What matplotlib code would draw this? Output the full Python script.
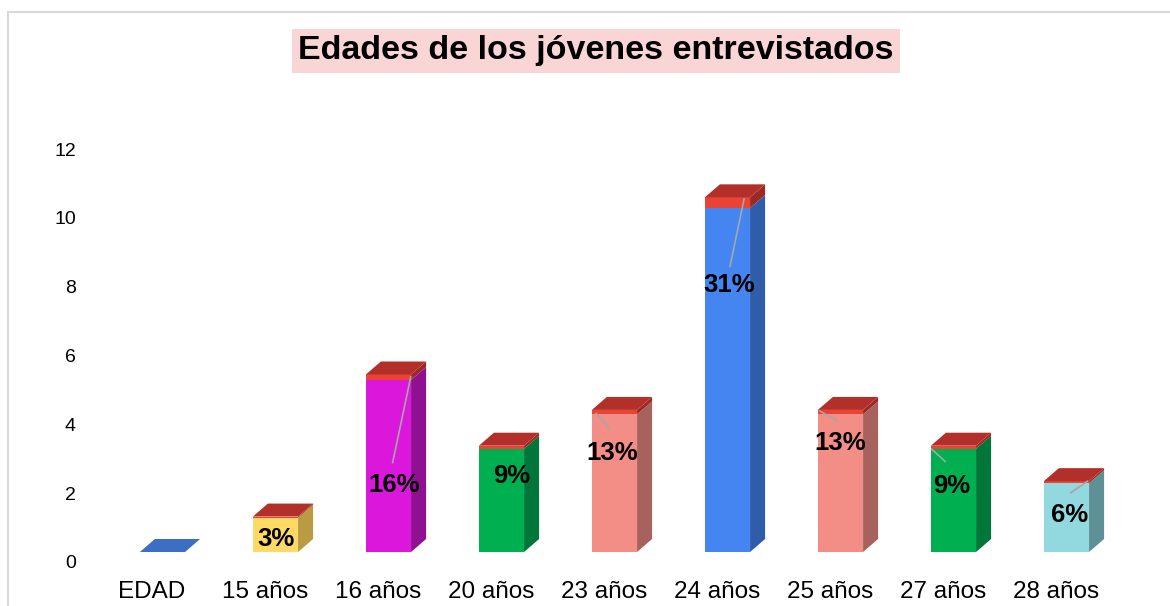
import matplotlib
matplotlib.use("Agg")
import matplotlib.pyplot as plt
from matplotlib.patches import Polygon, Rectangle
from matplotlib.transforms import ScaledTranslation

plt.rcParams['font.family'] = ['Liberation Sans', 'DejaVu Sans']

# data
categories = ["EDAD", "15 años", "16 años", "20 años", "23 años",
              "24 años", "25 años", "27 años", "28 años"]
counts = [0, 1, 5, 3, 4, 10, 4, 3, 2]
shares = [0, 0.03, 0.16, 0.09, 0.13, 0.31, 0.13, 0.09, 0.06]
yticks = [0, 2, 4, 6, 8, 10, 12]

# styling
front_colors = ["#3C6FC4", "#FFD966", "#DB17DB", "#00B050", "#F28E86",
                "#4485F2", "#F28E86", "#00B050", "#92D8DF"]
side_colors = ["#2C58A0", "#B89B43", "#8F1191", "#00763A", "#A8625D",
               "#2F5DAA", "#A8625D", "#00763A", "#5E9196"]
red_front = "#EA4335"
red_top = "#B3302A"
red_side = "#9C2A24"

# label positions (data units) and leader lines
label_pos = [None, (1.10, 0.38), (2.14, 1.95), (3.18, 2.21), (4.07, 2.88),
             (5.11, 7.76), (6.09, 3.17), (7.08, 1.92), (8.12, 1.08)]
leaders = [None, None, ((2.13, 2.60), (2.29, 5.09)), None,
           ((4.04, 3.62), (3.93, 4.03)), ((5.115, 8.30), (5.24, 10.26)),
           ((6.07, 3.80), (5.91, 4.10)), ((7.02, 2.63), (6.90, 2.99)),
           ((8.13, 1.72), (8.28, 2.06))]

W, H = 1170, 606
fig = plt.figure(figsize=(W / 100, H / 100), dpi=100)
ax = fig.add_axes([95 / W, 54 / H, 1030 / W, 12.5 * 34.4 / H])

bw = 0.40
shift = 0.093
dx, dy = 0.133, 0.378
xs = list(range(len(categories)))

ax.bar([x + shift for x in xs], counts, width=bw, color=front_colors, zorder=2)
ax.bar([x + shift for x in xs], shares, bottom=counts, width=bw,
       color=red_front, zorder=2)

for i, (v, p) in enumerate(zip(counts, shares)):
    x0 = i + shift - bw / 2
    x1 = x0 + bw
    if v > 0:
        ax.add_patch(Polygon([(x1, 0), (x1 + dx, dy), (x1 + dx, v + dy), (x1, v)],
                             closed=True, color=side_colors[i], lw=0, zorder=2))
        ax.add_patch(Polygon([(x1, v), (x1 + dx, v + dy), (x1 + dx, v + p + dy),
                              (x1, v + p)], closed=True, color=red_side, lw=0, zorder=2))
        top_c = red_top
    else:
        top_c = front_colors[i]
    t = v + p
    ax.add_patch(Polygon([(x0, t), (x1, t), (x1 + dx, t + dy), (x0 + dx, t + dy)],
                         closed=True, color=top_c, lw=0, zorder=2))

for i, p in enumerate(shares):
    if label_pos[i] is None:
        continue
    if leaders[i] is not None:
        (xa, ya), (xb, yb) = leaders[i]
        ax.plot([xa, xb], [ya, yb], color="#A6A6A6", lw=1.2, zorder=3)
    ax.text(label_pos[i][0], label_pos[i][1], f"{round(p * 100)}%",
            ha="center", va="center", fontsize=18.5, fontweight="bold",
            color="black", zorder=4)

ax.set_xlim(-0.504, 8.611)
ax.set_ylim(0, 12.5)
ax.set_xticks(xs)
ax.set_xticklabels(categories, fontsize=17.5)
ax.set_yticks(yticks)
ax.set_yticklabels([str(t) for t in yticks], fontsize=14)
ax.tick_params(axis="x", length=0, pad=21)
ax.tick_params(axis="y", length=0, pad=13.7)
off = ScaledTranslation(0, -10 / 100, fig.dpi_scale_trans)
for lab in ax.get_yticklabels():
    lab.set_transform(lab.get_transform() + off)
for s in ax.spines.values():
    s.set_visible(False)

fig.text(596 / W, 1 - 51 / H, "Edades de los jóvenes entrevistados",
         ha="center", va="center", fontsize=24.5, fontweight="bold",
         bbox=dict(boxstyle="square,pad=0.18", facecolor="#F9D6D5", edgecolor="none"))

fig.patches.append(Rectangle((7.5 / W, -0.1), 1.2, 1.1 - 12.5 / H,
                             transform=fig.transFigure, fill=False,
                             edgecolor="#D9D9D9", lw=1.5))

fig.savefig("out.png", dpi=100)
